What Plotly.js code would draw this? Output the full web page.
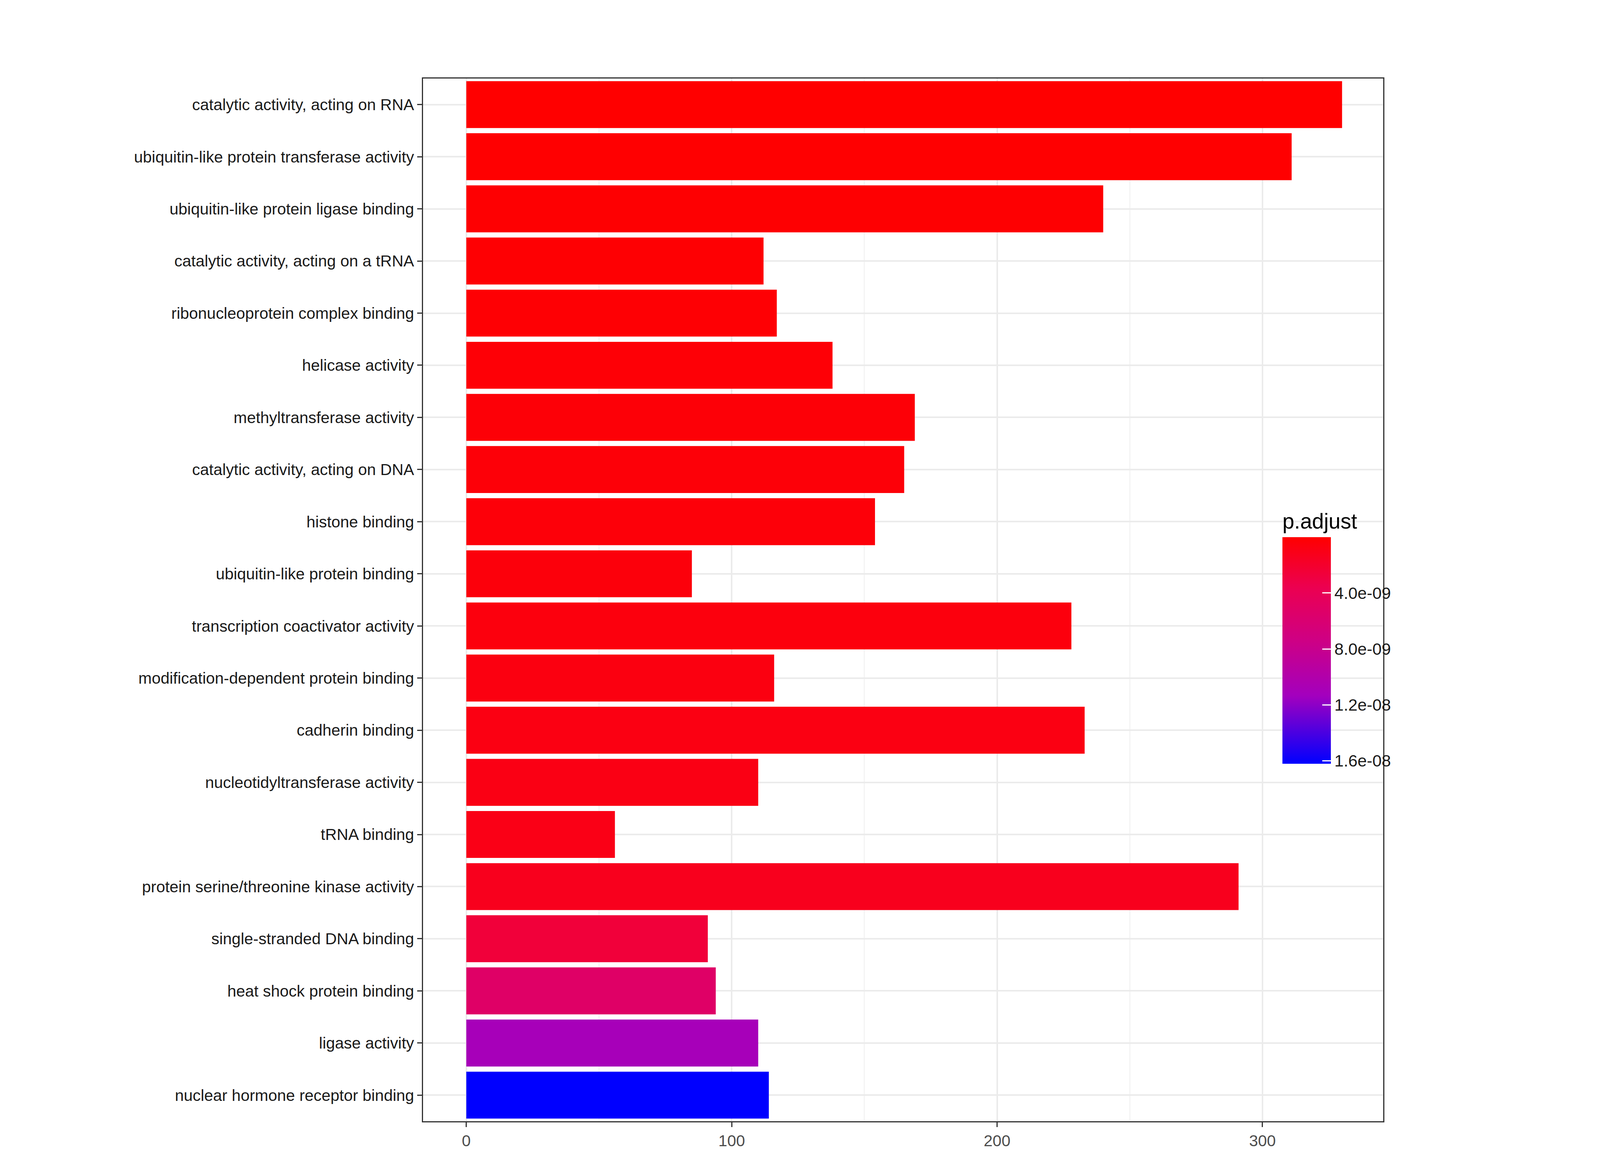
<!DOCTYPE html>
<html>
<head>
<meta charset="utf-8">
<script src="https://cdn.plot.ly/plotly-3.0.1.min.js"></script>
<style>html,body{margin:0;padding:0;background:#fff;overflow:hidden}#chart{width:100vw;height:100vh}</style>
</head>
<body>
<div id="chart"></div>
<script>
// GO terms, top to bottom
var terms = ["catalytic activity, acting on RNA", "ubiquitin-like protein transferase activity",
  "ubiquitin-like protein ligase binding", "catalytic activity, acting on a tRNA",
  "ribonucleoprotein complex binding", "helicase activity", "methyltransferase activity",
  "catalytic activity, acting on DNA", "histone binding", "ubiquitin-like protein binding",
  "transcription coactivator activity", "modification-dependent protein binding",
  "cadherin binding", "nucleotidyltransferase activity", "tRNA binding",
  "protein serine/threonine kinase activity", "single-stranded DNA binding",
  "heat shock protein binding", "ligase activity", "nuclear hormone receptor binding"];
var counts = [330, 311, 240, 112, 117, 138, 169, 165, 154, 85, 228, 116, 233, 110, 56, 291, 91, 94, 110, 114];
var padj = [1e-11, 5e-11, 1e-10, 1.5e-10, 2e-10, 2.5e-10, 3e-10, 3.5e-10, 4e-10, 5e-10,
  6e-10, 7e-10, 8e-10, 9e-10, 1e-9, 1.3e-9, 2.6e-9, 5.2e-9, 1.1e-8, 1.62e-8];
var cbTicks = [4e-9, 8e-9, 1.2e-8, 1.6e-8];
var cbLabels = ["4.0e-09", "8.0e-09", "1.2e-08", "1.6e-08"];

// sizes are taken from the window so the chart always fits
var W = window.innerWidth, H = window.innerHeight;
var s = Math.min(W / 4800, H / 3000);

var trace = {
  type: 'bar', orientation: 'h',
  x: counts, y: terms, width: 0.9,
  marker: {
    color: padj.map(function (p) { return -p; }),
    cmin: -1.62e-8, cmax: 0,
    colorscale: [[0, '#0000FF'], [0.3, '#A300BE'], [0.55, '#CF0083'], [0.78, '#EC0050'], [1, '#FF0000']],
    colorbar: {
      x: 0.895, xanchor: 'left', y: 1 - 0.415, yanchor: 'top',
      len: 0.242, lenmode: 'fraction', thickness: 145 * s, outlinewidth: 0, xpad: 0, ypad: 0,
      tickvals: cbTicks.map(function (t) { return -t; }), ticktext: cbLabels,
      ticks: 'inside', ticklen: 25 * s, tickcolor: '#fff', tickwidth: 3 * s,
      tickfont: {size: 50 * s, color: '#1a1a1a'},
      title: {text: 'p.adjust', side: 'top', font: {size: 64 * s, color: '#000'}}
    }
  }
};

var layout = {
  width: W, height: H,
  paper_bgcolor: '#fff', plot_bgcolor: '#fff',
  font: {family: 'Liberation Sans, Arial, sans-serif'},
  margin: {l: W * 0.2645, r: W * 0.1355, t: H * 0.067, b: H * 0.0433},
  showlegend: false,
  xaxis: {
    range: [-16.3, 345.5], tickvals: [0, 100, 200, 300],
    showgrid: true, gridcolor: '#ebebeb', gridwidth: 5 * s,
    minor: {tickvals: [50, 150, 250], showgrid: true, gridcolor: '#f4f4f4', gridwidth: 3 * s},
    zeroline: false, showline: true, mirror: true, linecolor: '#333', linewidth: 3 * s,
    ticks: 'outside', ticklen: 14 * s, tickwidth: 3 * s, tickcolor: '#333',
    tickfont: {size: 48 * s, color: '#4d4d4d'}
  },
  yaxis: {
    categoryorder: 'array', categoryarray: terms, autorange: 'reversed',
    showgrid: true, gridcolor: '#ebebeb', gridwidth: 5 * s,
    showline: true, mirror: true, linecolor: '#333', linewidth: 3 * s,
    ticks: 'outside', ticklen: 14 * s, tickwidth: 3 * s, tickcolor: '#333',
    tickfont: {size: 48 * s, color: '#1a1a1a'}
  },
  bargap: 0.1
};

Plotly.newPlot('chart', [trace], layout, {displayModeBar: false});
</script>
</body>
</html>
